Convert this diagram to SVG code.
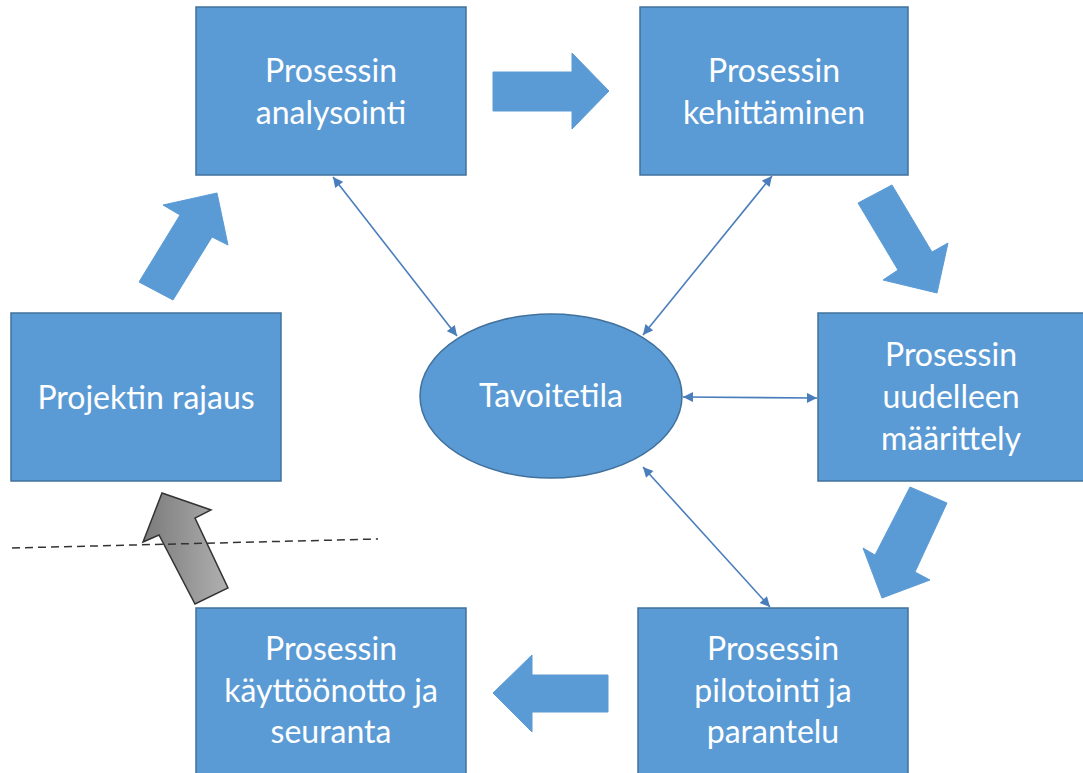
<svg xmlns="http://www.w3.org/2000/svg" width="1083" height="773" viewBox="0 0 1083 773">
  <defs>
    <style>
      .box { fill: #5B9BD5; stroke: #41719C; stroke-width: 1.5; }
      .label { fill: #ffffff; font-family: Lato, "Liberation Sans", sans-serif; font-size: 32px; text-anchor: middle; }
      .flow { fill: #5B9BD5; stroke: #5B9BD5; stroke-width: 1; stroke-linejoin: miter; }
      .link { stroke: #4A7EBB; stroke-width: 1.6; fill: none; marker-start: url(#head); marker-end: url(#head); }
    </style>
    <marker id="head" viewBox="0 0 10 10" refX="10" refY="5" markerWidth="11" markerHeight="10" markerUnits="userSpaceOnUse" orient="auto-start-reverse">
      <path d="M0,0 L10,5 L0,10 Z" fill="#4A7EBB"/>
    </marker>
    <linearGradient id="grayFill" x1="0" y1="0" x2="1" y2="0">
      <stop offset="0" stop-color="#7A7A7A"/>
      <stop offset="1" stop-color="#B0B0B0"/>
    </linearGradient>
  </defs>

  <rect width="1083" height="773" fill="#ffffff"/>

  <!-- double-headed links to the centre -->
  <g id="connectors">
    <line class="link" x1="333" y1="177" x2="457" y2="336"/>
    <line class="link" x1="772" y1="176" x2="643" y2="335"/>
    <line class="link" x1="683" y1="397" x2="817" y2="398"/>
    <line class="link" x1="643" y1="467" x2="770" y2="607"/>
  </g>

  <!-- cycle arrows between steps -->
  <g id="flow-arrows">
    <polygon class="flow" points="493,72 572,72 572,53 609,91 572,129 572,111 493,111"/>
    <polygon class="flow" points="858,203 892,185 932,252 948,243 937,293 883,280 898,270"/>
    <polygon class="flow" points="910,487 947,503 915,572 930,580 882,598 863,548 875,555"/>
    <polygon class="flow" points="608,675 532,675 532,655 493,693 532,732 532,712 608,712"/>
    <polygon class="flow" points="217,193 228,245 212,237 173,300 139,282 180,215 163,205"/>
  </g>

  <!-- return arrow and boundary line drawn over it -->
  <g id="boundary">
    <polygon points="162,493 211,510 195,518 228,588 195,604 159,535 143,542" fill="url(#grayFill)" stroke="#333333" stroke-width="1.5" stroke-linejoin="miter"/>
    <line x1="12" y1="548" x2="378" y2="539" stroke="#333333" stroke-width="1.5" stroke-dasharray="8,5"/>
  </g>

  <g id="node-analysointi">
    <rect class="box" x="196" y="7" width="270" height="168"/>
    <text class="label" x="331" y="82">Prosessin</text>
    <text class="label" x="331" y="124">analysointi</text>
  </g>

  <g id="node-kehittaminen">
    <rect class="box" x="640" y="7" width="268" height="168"/>
    <text class="label" x="774" y="82">Prosessin</text>
    <text class="label" x="774" y="124">kehittäminen</text>
  </g>

  <g id="node-rajaus">
    <rect class="box" x="11" y="313" width="270" height="168"/>
    <text class="label" x="146" y="409">Projektin rajaus</text>
  </g>

  <g id="node-maarittely">
    <rect class="box" x="818" y="313" width="266" height="168"/>
    <text class="label" x="951" y="366">Prosessin</text>
    <text class="label" x="951" y="408">uudelleen</text>
    <text class="label" x="951" y="450">määrittely</text>
  </g>

  <g id="node-kayttoonotto">
    <rect class="box" x="196" y="608" width="270" height="166"/>
    <text class="label" x="331" y="660">Prosessin</text>
    <text class="label" x="331" y="702">käyttöönotto ja</text>
    <text class="label" x="331" y="743">seuranta</text>
  </g>

  <g id="node-pilotointi">
    <rect class="box" x="638" y="608" width="270" height="166"/>
    <text class="label" x="773" y="660">Prosessin</text>
    <text class="label" x="773" y="702">pilotointi ja</text>
    <text class="label" x="773" y="743">parantelu</text>
  </g>

  <g id="node-tavoitetila">
    <ellipse class="box" cx="551" cy="396" rx="131" ry="82"/>
    <text class="label" x="551" y="407">Tavoitetila</text>
  </g>
</svg>
